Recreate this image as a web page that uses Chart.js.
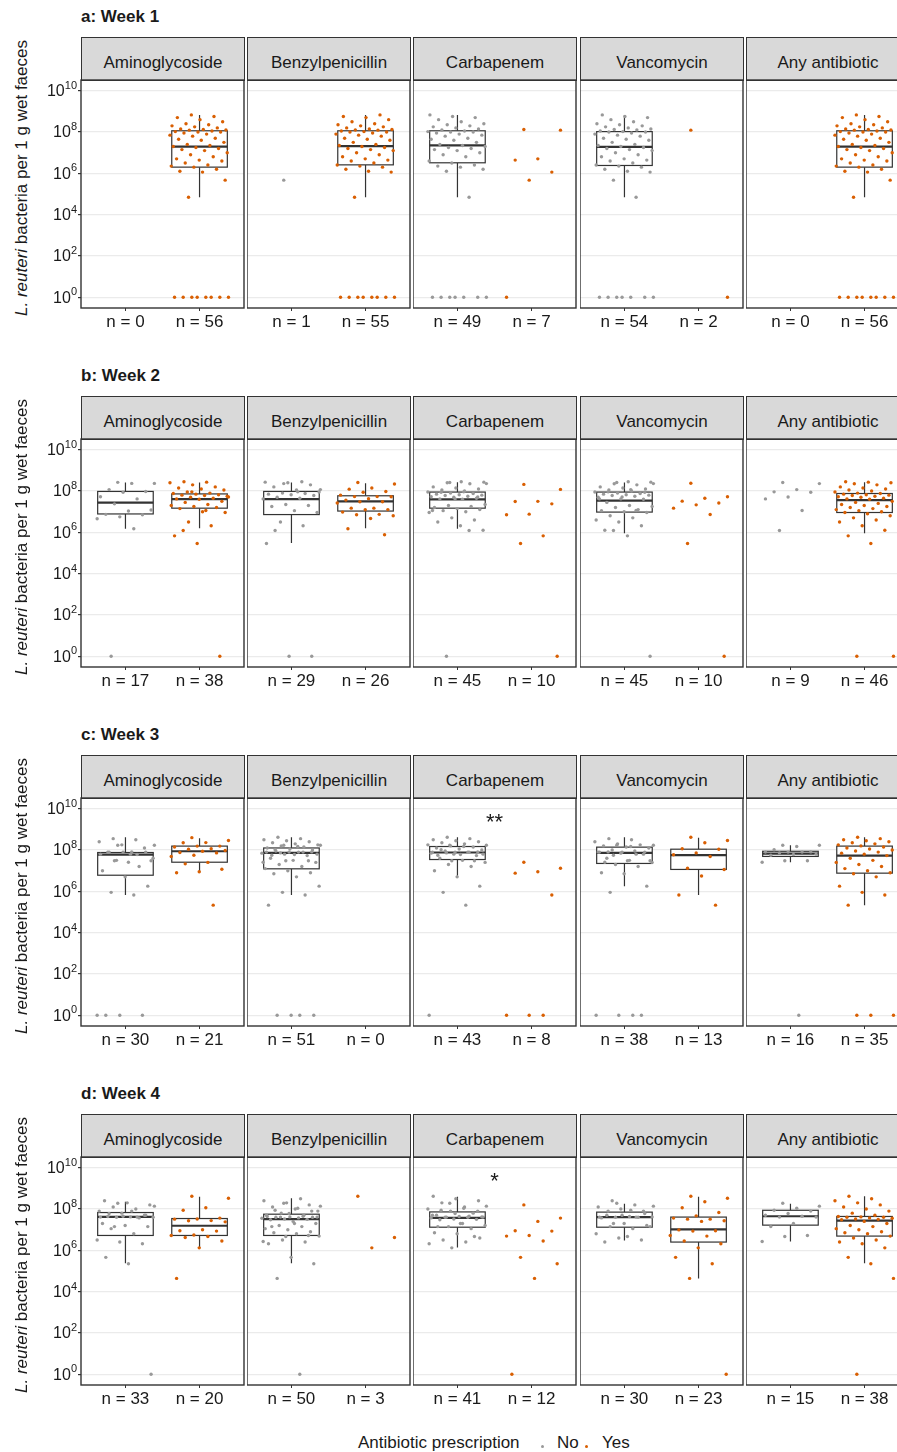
<!DOCTYPE html>
<html>
<head>
<meta charset="utf-8">
<script src="https://cdn.jsdelivr.net/npm/chart.js@4.4.0/dist/chart.umd.min.js"></script>
<style>
body{margin:0;width:897px;height:1452px;overflow:hidden;background:#fff;position:relative;font-family:"Liberation Sans",Arial,sans-serif;color:#1a1a1a}
.abs{position:absolute}
.title{font-weight:bold;font-size:17px;line-height:20px;white-space:nowrap}
.strip{background:#d9d9d9;border:1px solid #333;box-sizing:border-box;display:flex;align-items:center;justify-content:center;font-size:17px;height:44px;padding-top:7px;white-space:nowrap}
.ylab{font-size:17px;line-height:20px;width:400px;text-align:center;transform:rotate(-90deg);white-space:nowrap}
.leg{font-size:17px;line-height:20px;white-space:nowrap}
.dot{width:3px;height:3px;border-radius:50%}
</style>
</head>
<body>
<script>
const weeks = ['a: Week 1', 'b: Week 2', 'c: Week 3', 'd: Week 4']
const antibiotics = ['Aminoglycoside', 'Benzylpenicillin', 'Carbapenem', 'Vancomycin', 'Any antibiotic']

// group sizes [No, Yes] per antibiotic, read from the n labels
const counts1 = [[0, 56], [1, 55], [49, 7], [54, 2], [0, 56]]
const counts2 = [[17, 38], [29, 26], [45, 10], [45, 10], [9, 46]]
const counts3 = [[30, 21], [51, 0], [43, 8], [38, 13], [16, 35]]
const counts4 = [[33, 20], [50, 3], [41, 12], [30, 23], [15, 38]]

// all values are log10(bacteria per g); 0 means 10^0
// week 1: every patient (any antibiotic = yes)
const wk1All = [0, 0, 0, 0, 0, 0, 0, 0, 4.84, 5.67, 6.06, 6.1, 6.2, 6.3,
  6.35, 6.4, 6.5, 6.6, 6.64, 6.7, 6.8, 6.9, 7.0, 7.1, 7.15, 7.2, 7.25, 7.3,
  7.35, 7.4, 7.5, 7.6, 7.65, 7.7, 7.8, 7.85, 7.9, 7.95, 8.0, 8.0, 8.02, 8.05,
  8.09, 8.1, 8.12, 8.15, 8.2, 8.25, 8.3, 8.35, 8.4, 8.5, 8.6, 8.7, 8.75, 8.83]
const wk1BenzylNo = [5.67]
const wk1CarbYes = [8.12, 8.09, 6.7, 6.64, 6.06, 5.67, 0]
const wk1VancoYes = [8.09, 0]

// week 2
const wk2AnyNo = [8.41, 8.36, 8.07, 7.96, 7.94, 7.71, 7.62, 7.06, 6.09]
const wk2AnyYes = [0, 0, 5.46, 5.83, 6.1, 6.32, 6.5, 6.6, 6.7, 6.8, 6.9, 6.96,
  7.0, 7.05, 7.1, 7.15, 7.2, 7.25, 7.3, 7.35, 7.4, 7.45, 7.5,
  7.6, 7.62, 7.65, 7.7, 7.72, 7.75, 7.78, 7.8, 7.82, 7.85, 7.88,
  7.9, 7.95, 8.0, 8.05, 8.1, 8.15, 8.2, 8.3, 8.35, 8.4, 8.43, 8.45]
const wk2AminoNo = [8.42, 8.37, 8.37, 8.07, 7.98, 7.94, 7.72, 7.62, 7.38, 7.08, 7.03, 6.87, 6.85, 6.75, 6.66, 6.17, 0]
const wk2BenzylYes = [8.41, 8.34, 8.15, 8.09, 7.98, 7.94, 7.8, 7.73, 7.73, 7.72, 7.63, 7.56, 7.48,
  7.48, 7.42, 7.17, 7.17, 7.1, 7.09, 6.98, 6.87, 6.85, 6.8, 6.67, 6.17, 5.88]
const wk2CarbYes = [8.32, 8.08, 7.5, 7.49, 7.38, 6.88, 6.85, 5.83, 5.46, 0]
const wk2VancoYes = [8.38, 7.72, 7.65, 7.51, 7.42, 7.33, 7.17, 6.86, 5.46, 0]

// week 3
const wk3AnyNo = [8.23, 8.23, 8.17, 8.01, 7.91, 7.9, 7.9, 7.9, 7.86, 7.8, 7.78, 7.75, 7.48, 7.48, 7.41, 0]
const wk3AnyYes = [0, 0, 0, 5.33, 5.82, 5.95, 6.25, 6.7, 6.85, 6.9, 7.0, 7.1, 7.2, 7.3, 7.4, 7.5, 7.6,
  7.73, 7.8, 7.85, 7.9, 7.95, 8.0, 8.05, 8.1, 8.15, 8.2, 8.25, 8.3, 8.35, 8.4, 8.45, 8.5, 8.55, 8.62]
const wk3AminoYes = [8.6, 8.46, 8.36, 8.35, 8.19, 8.19, 8.15, 8.06, 8.04, 7.98, 7.94, 7.88, 7.86, 7.75,
  7.69, 7.4, 7.33, 7.07, 6.95, 6.9, 5.33]
const wk3BenzylYes = []
const wk3CarbYes = [7.41, 7.12, 6.95, 6.88, 5.82, 0, 0, 0]
const wk3VancoYes = [8.62, 8.46, 8.35, 8.06, 8.04, 7.86, 7.77, 7.69, 7.12, 7.06, 6.74, 5.82, 5.33]

// week 4
const wk4AnyNo = [8.28, 8.14, 8.04, 7.94, 7.9, 7.78, 7.7, 7.65, 7.61, 7.61, 7.3, 7.15, 6.72, 6.67, 6.43]
const wk4AnyYes = [0, 4.64, 5.35, 5.66, 6.12, 6.32, 6.4, 6.5, 6.6, 6.69, 6.8, 6.85, 6.9, 7.0, 7.05, 7.15,
  7.2, 7.3, 7.4, 7.48, 7.5, 7.52, 7.55, 7.57, 7.6, 7.6, 7.62, 7.64, 7.7, 7.8, 7.9, 8.0, 8.1, 8.2, 8.3,
  8.4, 8.5, 8.62]
const wk4AminoYes = [8.62, 8.52, 8.06, 7.94, 7.56, 7.52, 7.51, 7.44, 7.43, 7.38, 7.0, 6.95, 6.93, 6.74,
  6.72, 6.67, 6.62, 6.45, 6.12, 4.64]
const wk4BenzylYes = [8.62, 6.62, 6.12]
const wk4CarbYes = [8.2, 7.56, 7.4, 6.95, 6.93, 6.72, 6.69, 6.45, 5.66, 5.35, 4.64, 0]
const wk4VancoYes = [8.62, 8.52, 8.35, 8.06, 7.83, 7.67, 7.56, 7.51, 7.51, 7.43, 7.4, 6.99, 6.95, 6.93,
  6.72, 6.69, 6.45, 6.32, 6.12, 5.66, 5.35, 4.64, 0]

// box stats [lower whisker, q1, median, q3, upper whisker] as [No, Yes]; null = no box drawn
const box1 = [[null, [4.84, 6.3, 7.29, 8.06, 8.83]], [null, [4.84, 6.41, 7.32, 8.06, 8.83]],
  [[4.84, 6.51, 7.35, 8.06, 8.83], null], [[4.84, 6.38, 7.28, 8.02, 8.83], null],
  [null, [4.84, 6.3, 7.29, 8.06, 8.83]]]
const box2 = [[[6.17, 6.89, 7.44, 7.98, 8.41], [6.2, 7.17, 7.61, 7.86, 8.41]],
  [[5.48, 6.86, 7.61, 7.98, 8.41], [6.2, 7.03, 7.5, 7.77, 8.38]],
  [[6.17, 7.17, 7.6, 7.95, 8.43], null], [[5.95, 6.98, 7.54, 7.95, 8.41], null],
  [null, [5.95, 6.96, 7.56, 7.88, 8.43]]]
const box3 = [[[5.82, 6.78, 7.78, 7.88, 8.62], [6.9, 7.41, 7.94, 8.19, 8.57]],
  [[5.82, 7.09, 7.86, 8.1, 8.62], null], [[6.75, 7.54, 7.88, 8.17, 8.62], null],
  [[6.25, 7.35, 7.86, 8.14, 8.62], [5.82, 7.06, 7.75, 8.04, 8.59]],
  [[7.41, 7.69, 7.83, 7.94, 8.23], [5.33, 6.88, 7.73, 8.19, 8.62]]]
const box4 = [[[5.37, 6.72, 7.62, 7.83, 8.35], [6.12, 6.72, 7.19, 7.54, 8.59]],
  [[5.37, 6.72, 7.51, 7.75, 8.52], null], [[6.14, 7.12, 7.57, 7.86, 8.59], null],
  [[6.48, 7.12, 7.61, 7.85, 8.25], [4.64, 6.4, 7.01, 7.61, 8.59]],
  [[6.43, 7.22, 7.65, 7.94, 8.25], [5.37, 6.69, 7.44, 7.64, 8.62]]]

// significance marks: [panel index, label]
const stars3 = [[2, '**']]
const stars4 = [[2, '*']]

const yTickExp = [0, 2, 4, 6, 8, 10]
const groupColors = ['#999999', '#d95f02']

// remove the listed group from all patients of the week -> the other group
function complement(all, listed) {
  let rest = all.slice()
  for (let v of listed) {
    let best = 0
    for (let k = 1; k < rest.length; k++) {
      if (Math.abs(rest[k] - v) < Math.abs(rest[best] - v)) best = k
    }
    rest.splice(best, 1)
  }
  return rest
}
function split(all, listed, listedGroup) {
  let other = complement(all, listed)
  return listedGroup == 'No' ? [listed, other] : [other, listed]
}

const wk2All = wk2AnyNo.concat(wk2AnyYes)
const wk3All = wk3AnyNo.concat(wk3AnyYes)
const wk4All = wk4AnyNo.concat(wk4AnyYes)

const weekData = [
  {counts: counts1, boxes: box1, stars: [], groups: [
    split(wk1All, [], 'No'), split(wk1All, wk1BenzylNo, 'No'), split(wk1All, wk1CarbYes, 'Yes'),
    split(wk1All, wk1VancoYes, 'Yes'), split(wk1All, [], 'No')]},
  {counts: counts2, boxes: box2, stars: [], groups: [
    split(wk2All, wk2AminoNo, 'No'), split(wk2All, wk2BenzylYes, 'Yes'), split(wk2All, wk2CarbYes, 'Yes'),
    split(wk2All, wk2VancoYes, 'Yes'), split(wk2All, wk2AnyNo, 'No')]},
  {counts: counts3, boxes: box3, stars: stars3, groups: [
    split(wk3All, wk3AminoYes, 'Yes'), split(wk3All, wk3BenzylYes, 'Yes'), split(wk3All, wk3CarbYes, 'Yes'),
    split(wk3All, wk3VancoYes, 'Yes'), split(wk3All, wk3AnyNo, 'No')]},
  {counts: counts4, boxes: box4, stars: stars4, groups: [
    split(wk4All, wk4AminoYes, 'Yes'), split(wk4All, wk4BenzylYes, 'Yes'), split(wk4All, wk4CarbYes, 'Yes'),
    split(wk4All, wk4VancoYes, 'Yes'), split(wk4All, wk4AnyNo, 'No')]}
]

// layout
const rowStep = 359
const panelLeft = [81, 247, 413, 580, 746]
const panelW = 163
const plotH = 228
const yAxisW = 50
const xAxisH = 30
const font = '"Liberation Sans", Arial, sans-serif'

function addDiv(cls, html, left, top, extra) {
  let d = document.createElement('div')
  d.className = 'abs ' + cls
  d.innerHTML = html
  d.style.left = left + 'px'
  d.style.top = top + 'px'
  if (extra) Object.assign(d.style, extra)
  document.body.appendChild(d)
  return d
}

// deterministic horizontal jitter, +-0.4 of a category
function jitter(i) {
  return (((i * 0.6180339887) + 0.37) % 1 - 0.5) * 0.8
}

function noPadding(s) {
  s.paddingLeft = 0
  s.paddingRight = 0
  s.paddingTop = 0
  s.paddingBottom = 0
}

function panelPlugin(stats, star, first) {
  return {
    id: 'panelBoxes',
    beforeDatasetsDraw(chart) {
      let {ctx, scales: {x, y}} = chart
      ctx.save()
      ctx.strokeStyle = '#333333'
      stats.forEach((s, g) => {
        if (!s) return
        let xc = x.getPixelForValue(g + 1)
        let hw = x.getPixelForValue(g + 1.375) - xc
        let p = s.map(v => y.getPixelForValue(10 ** v))
        ctx.lineWidth = 1.2
        ctx.beginPath()
        ctx.moveTo(xc, p[0]); ctx.lineTo(xc, p[1])
        ctx.moveTo(xc, p[3]); ctx.lineTo(xc, p[4])
        ctx.stroke()
        ctx.fillStyle = '#ffffff'
        ctx.fillRect(xc - hw, p[3], 2 * hw, p[1] - p[3])
        ctx.strokeRect(xc - hw, p[3], 2 * hw, p[1] - p[3])
        ctx.lineWidth = 2.2
        ctx.beginPath()
        ctx.moveTo(xc - hw, p[2]); ctx.lineTo(xc + hw, p[2])
        ctx.stroke()
      })
      ctx.restore()
    },
    afterDraw(chart) {
      let {ctx, chartArea: a, scales: {x, y}} = chart
      ctx.save()
      ctx.strokeStyle = '#333333'
      ctx.lineWidth = 1.4
      ctx.strokeRect(a.left, a.top, a.right - a.left, a.bottom - a.top)
      ctx.fillStyle = '#1a1a1a'
      if (star) {
        ctx.font = '22px ' + font
        ctx.textAlign = 'center'
        ctx.textBaseline = 'alphabetic'
        ctx.fillText(star, x.getPixelForValue(1.5), y.getPixelForValue(1e9))
      }
      if (first) {
        // y tick labels as 10 with a raised exponent
        ctx.textAlign = 'right'
        ctx.textBaseline = 'middle'
        let right = a.left - 4
        for (let t of y.ticks) {
          let py = y.getPixelForValue(t.value)
          let e = String(Math.round(Math.log10(t.value)))
          ctx.font = '11px ' + font
          let ew = ctx.measureText(e).width
          ctx.fillText(e, right, py - 5)
          ctx.font = '16px ' + font
          ctx.fillText('10', right - ew, py + 1)
        }
      }
      ctx.restore()
    }
  }
}

weekData.forEach((wk, r) => {
  let top = rowStep * r
  addDiv('title', weeks[r], 81, top + 7)
  addDiv('ylab', '<i>L. reuteri</i> bacteria per 1 g wet faeces', 22 - 200, top + 178 - 10)

  antibiotics.forEach((ab, i) => {
    addDiv('strip', ab, panelLeft[i], top + 37, {width: (panelW + 1) + 'px'})

    let first = i == 0
    let canvas = document.createElement('canvas')
    let cw = panelW + 1 + (first ? yAxisW : 0)
    let ch = plotH + 1 + xAxisH
    canvas.width = cw
    canvas.height = ch
    canvas.className = 'abs'
    canvas.style.left = (panelLeft[i] - (first ? yAxisW : 0)) + 'px'
    canvas.style.top = (top + 79) + 'px'
    document.body.appendChild(canvas)

    let counts = wk.counts[i]
    let star = (wk.stars.find(s => s[0] == i) || [])[1]
    let datasets = wk.groups[i].map((vals, g) => ({
      data: vals.map((v, k) => ({x: g + 1 + jitter(k), y: 10 ** v})),
      backgroundColor: groupColors[g],
      borderWidth: 0,
      pointRadius: 1.7
    }))

    new Chart(canvas, {
      type: 'scatter',
      data: {datasets: datasets},
      options: {
        responsive: false,
        animation: false,
        devicePixelRatio: 1,
        layout: {autoPadding: false, padding: {top: 1, right: 1, left: 0, bottom: 0}},
        plugins: {legend: {display: false}, tooltip: {enabled: false}},
        scales: {
          x: {
            type: 'linear', min: 0.4, max: 2.6,
            afterBuildTicks: s => { s.ticks = [{value: 1}, {value: 2}] },
            afterFit: s => { s.height = xAxisH; noPadding(s) },
            border: {display: false},
            grid: {drawOnChartArea: false, tickLength: 3, tickColor: '#333333'},
            ticks: {
              callback: v => 'n = ' + counts[Math.round(v) - 1],
              autoSkip: false, maxRotation: 0, padding: 1,
              color: '#1a1a1a', font: {family: font, size: 17}
            }
          },
          y: {
            type: 'logarithmic', min: 10 ** -0.5, max: 10 ** 10.52,
            afterBuildTicks: s => { s.ticks = yTickExp.map(e => ({value: 10 ** e})) },
            afterFit: s => { s.width = first ? yAxisW : 0; noPadding(s) },
            border: {display: false},
            grid: {color: '#ebebeb', lineWidth: 1.2, drawTicks: first, tickLength: 3, tickColor: '#333333'},
            ticks: {display: false}
          }
        }
      },
      plugins: [panelPlugin(wk.boxes[i], star, first)]
    })
  })
})

// legend
addDiv('leg', 'Antibiotic prescription', 358, 1433)
addDiv('dot', '', 541, 1445, {background: groupColors[0]})
addDiv('leg', 'No', 557, 1433)
addDiv('dot', '', 585, 1445, {background: groupColors[1]})
addDiv('leg', 'Yes', 602, 1433)
</script>
</body>
</html>
